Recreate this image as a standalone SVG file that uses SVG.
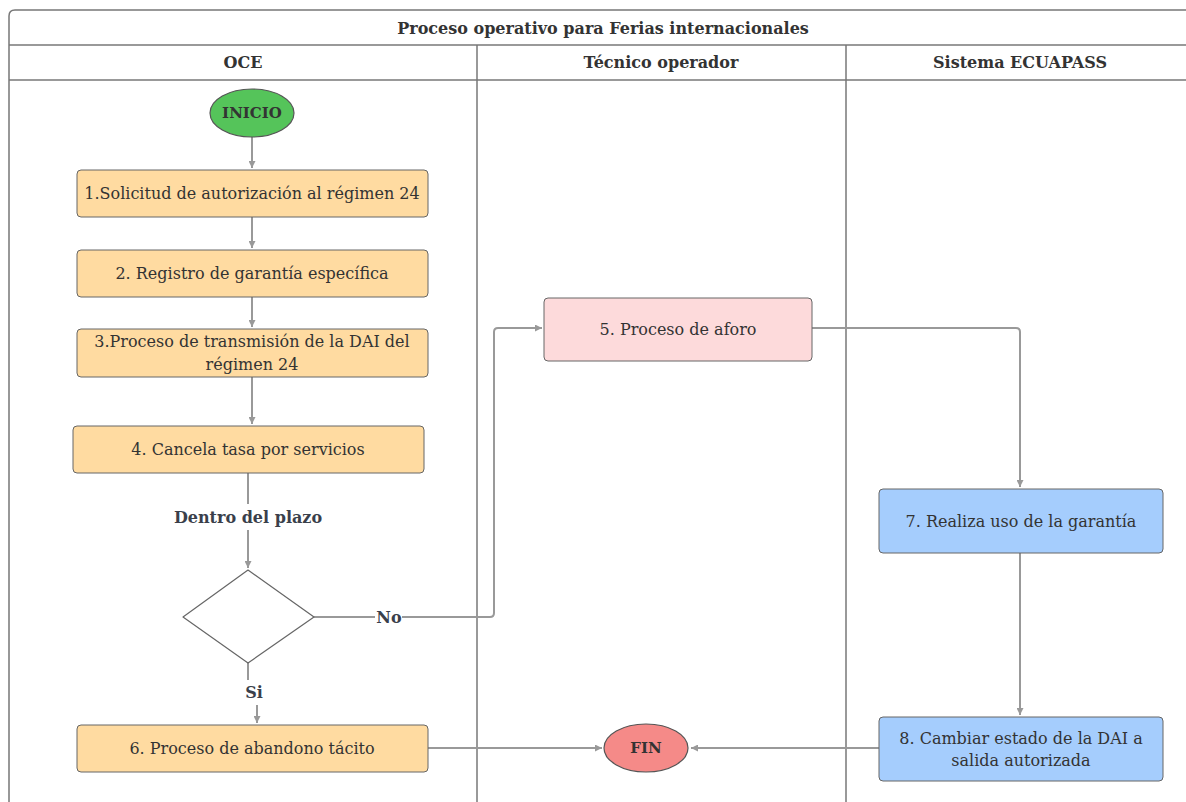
<svg xmlns="http://www.w3.org/2000/svg" width="1186" height="802" viewBox="0 0 1186 802">
<style>
.frame{fill:none;stroke:#777;stroke-width:1.5}
.hdr{font-family:"DejaVu Serif",serif;font-weight:bold;font-size:16px;fill:#333;text-anchor:middle;dominant-baseline:central}
.orange{fill:#ffdba1;stroke:#666;stroke-width:1}
.pink{fill:#fddadb;stroke:#666;stroke-width:1}
.blue{fill:#a5cdfd;stroke:#666;stroke-width:1}
.t{font-family:"DejaVu Serif",serif;font-size:16px;fill:#333;text-anchor:middle;dominant-baseline:central}
.tb{font-family:"DejaVu Serif",serif;font-weight:bold;font-size:15px;fill:#333;text-anchor:middle;dominant-baseline:central}
.lbl{font-family:"DejaVu Serif",serif;font-weight:bold;font-size:16px;fill:#3a3f4b;text-anchor:middle;dominant-baseline:central}
.c{fill:none;stroke:#999;stroke-width:2}
</style>
<defs>
<marker id="ah" viewBox="0 0 10 10" refX="10" refY="5" markerWidth="7" markerHeight="7" markerUnits="userSpaceOnUse" orient="auto">
<path d="M0,0 L10,5 L0,10 z" fill="#999"/>
</marker>
</defs>
<rect width="1186" height="802" fill="#fff"/>
<g id="pool">
<path class="frame" d="M9,802 L9,16 Q9,10 15,10 L1190,10"/>
<line class="frame" x1="9" y1="45" x2="1186" y2="45"/>
<line class="frame" x1="9" y1="80" x2="1186" y2="80"/>
<line class="frame" x1="477" y1="45" x2="477" y2="802"/>
<line class="frame" x1="846" y1="45" x2="846" y2="802"/>
<text class="hdr" x="603" y="28">Proceso operativo para Ferias internacionales</text>
<text class="hdr" x="243" y="62">OCE</text>
<text class="hdr" x="661" y="62">Técnico operador</text>
<text class="hdr" x="1020" y="62">Sistema ECUAPASS</text>
</g>
<g id="connectors">
<line class="c" x1="252" y1="137" x2="252" y2="168" marker-end="url(#ah)"/>
<line class="c" x1="252" y1="217" x2="252" y2="248" marker-end="url(#ah)"/>
<line class="c" x1="252" y1="297" x2="252" y2="327" marker-end="url(#ah)"/>
<line class="c" x1="252" y1="377" x2="252" y2="424" marker-end="url(#ah)"/>
<line class="c" x1="248" y1="473" x2="248" y2="504"/>
<line class="c" x1="248" y1="530" x2="248" y2="568" marker-end="url(#ah)"/>
<path class="c" d="M314,617 L375,617"/>
<path class="c" d="M402,617 L490,617 Q494,617 494,613 L494,332 Q494,328 498,328 L542,328" marker-end="url(#ah)"/>
<path class="c" d="M812,328 L1016,328 Q1020,328 1020,332 L1020,487" marker-end="url(#ah)"/>
<line class="c" x1="1020" y1="553" x2="1020" y2="715" marker-end="url(#ah)"/>
<line class="c" x1="879" y1="748" x2="691" y2="748" marker-end="url(#ah)"/>
<line class="c" x1="428" y1="748" x2="602" y2="748" marker-end="url(#ah)"/>
<line class="c" x1="248" y1="663" x2="248" y2="680"/>
<line class="c" x1="257" y1="705" x2="257" y2="723" marker-end="url(#ah)"/>
<text class="lbl" x="248" y="517">Dentro del plazo</text>
<text class="lbl" x="389" y="617">No</text>
<text class="lbl" x="254" y="692">Si</text>
</g>
<g id="inicio">
<ellipse cx="252" cy="113" rx="42" ry="24" fill="#55c45a" stroke="#555" stroke-width="1.2"/>
<text class="tb" x="252" y="113">INICIO</text>
</g>
<g id="n1">
<rect class="orange" x="77" y="170" width="351" height="47" rx="4"/>
<text class="t" x="252" y="193">1.Solicitud de autorización al régimen 24</text>
</g>
<g id="n2">
<rect class="orange" x="77" y="250" width="351" height="47" rx="4"/>
<text class="t" x="252" y="273">2. Registro de garantía específica</text>
</g>
<g id="n3">
<rect class="orange" x="77" y="329" width="351" height="48" rx="4"/>
<text class="t" x="252" y="341">3.Proceso de transmisión de la DAI del</text>
<text class="t" x="252" y="364">régimen 24</text>
</g>
<g id="n4">
<rect class="orange" x="73" y="426" width="351" height="47" rx="4"/>
<text class="t" x="248" y="449">4. Cancela tasa por servicios</text>
</g>
<g id="decision">
<path d="M248,570 L314,617 L248,663 L183,617 z" fill="#fff" stroke="#666" stroke-width="1.2" stroke-linejoin="round"/>
</g>
<g id="n5">
<rect class="pink" x="544" y="298" width="268" height="63" rx="4"/>
<text class="t" x="678" y="329">5. Proceso de aforo</text>
</g>
<g id="n6">
<rect class="orange" x="77" y="725" width="351" height="47" rx="4"/>
<text class="t" x="252" y="748">6. Proceso de abandono tácito</text>
</g>
<g id="n7">
<rect class="blue" x="879" y="489" width="284" height="64" rx="4"/>
<text class="t" x="1021" y="521">7. Realiza uso de la garantía</text>
</g>
<g id="n8">
<rect class="blue" x="879" y="717" width="284" height="64" rx="4"/>
<text class="t" x="1021" y="738">8. Cambiar estado de la DAI a</text>
<text class="t" x="1021" y="760">salida autorizada</text>
</g>
<g id="fin">
<ellipse cx="646" cy="748" rx="42" ry="24" fill="#f58a88" stroke="#555" stroke-width="1.2"/>
<text class="tb" x="646" y="748">FIN</text>
</g>
</svg>
